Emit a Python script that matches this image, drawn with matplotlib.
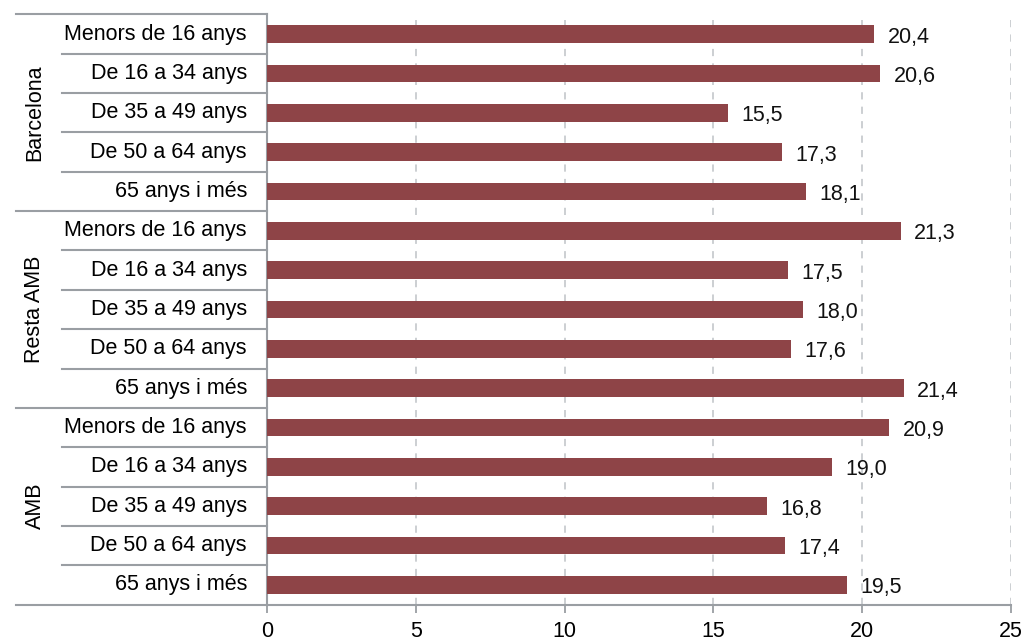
import matplotlib.pyplot as plt
import matplotlib.transforms as mtransforms

plt.rcParams['font.family'] = ['Liberation Sans', 'DejaVu Sans']

# Data (top to bottom)
groups = ["Barcelona", "Resta AMB", "AMB"]
ages = ["Menors de 16 anys", "De 16 a 34 anys", "De 35 a 49 anys",
        "De 50 a 64 anys", "65 anys i més"]
barcelona = [20.4, 20.6, 15.5, 17.3, 18.1]
resta_amb = [21.3, 17.5, 18.0, 17.6, 21.4]
amb = [20.9, 19.0, 16.8, 17.4, 19.5]

values = barcelona + resta_amb + amb
labels = ages * len(groups)

bar_color = "#8E4447"
axis_color = "#9A9EA3"
fs = 15.5

fig = plt.figure(figsize=(10.24, 6.41), dpi=100)
ax = fig.add_axes([267 / 1024, 1 - 604.5 / 641, 744 / 1024, (604.5 - 14.5) / 641])

y = list(range(len(values)))
ax.barh(y, values, height=0.45, color=bar_color, zorder=3)
ax.set_ylim(len(values) - 0.5, -0.5)
ax.set_xlim(0, 25)

for yi, v in zip(y, values):
    ax.text(v + 0.45, yi + 0.08, f"{v:.1f}".replace(".", ","), va="center", ha="left",
            fontsize=fs, color="#111111")

# grid
ax.set_xticks([0, 5, 10, 15, 20, 25])
ax.xaxis.grid(True, linestyle=(0, (4, 4)), color="#C8CBCF", linewidth=1.3, zorder=0)
ax.tick_params(axis="x", direction="out", length=6, width=1.3, color=axis_color,
               labelsize=fs, pad=6)
ax.set_yticks([])
for s in ["top", "right"]:
    ax.spines[s].set_visible(False)
for s in ["left", "bottom"]:
    ax.spines[s].set_color(axis_color)
    ax.spines[s].set_linewidth(1.5)

# category labels and separators on the left
trans = mtransforms.blended_transform_factory(ax.transAxes, ax.transData)
x_lab = (247 - 267) / 744
x_short = (62 - 267) / 744
x_long = (16 - 267) / 744
for yi, lab in zip(y, labels):
    ax.text(x_lab, yi, lab, transform=trans, ha="right", va="center", fontsize=fs)
    if yi % 5 != 4:
        ax.plot([x_short, 0], [yi + 0.5, yi + 0.5], transform=trans, color=axis_color,
                linewidth=1.5, clip_on=False)
for g in range(len(groups) + 1):
    yy = g * 5 - 0.5
    ax.plot([x_long, 0], [yy, yy], transform=trans, color=axis_color,
            linewidth=1.5, clip_on=False)
for g, name in enumerate(groups):
    ax.text((35 - 267) / 744, g * 5 + 2, name, transform=trans, rotation=90,
            ha="center", va="center", fontsize=fs)

fig.savefig("out.png", dpi=100)
